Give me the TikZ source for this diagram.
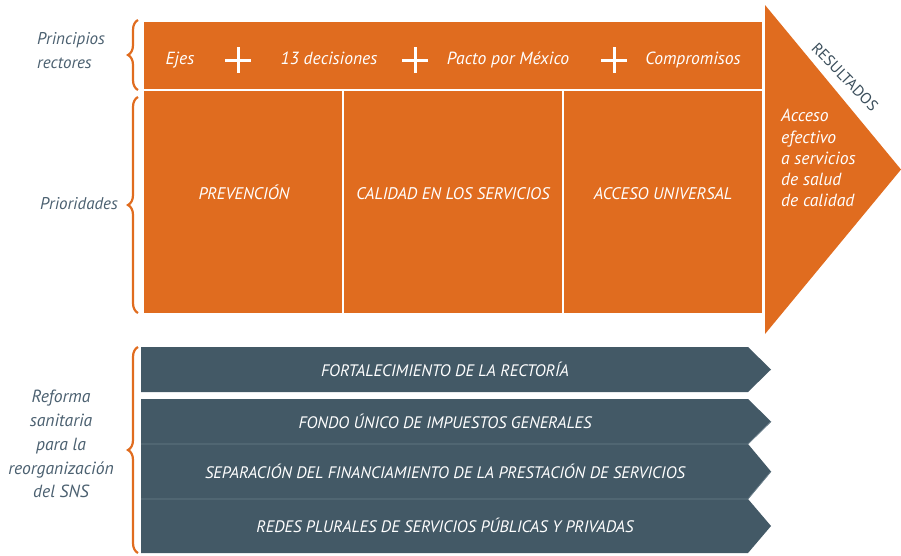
\documentclass[tikz,border=0pt]{standalone}
\usepackage{fontspec}
\setmainfont{PT Sans}
\usetikzlibrary{decorations.pathreplacing}
\definecolor{orng}{HTML}{E06C1F}
\definecolor{slate}{HTML}{435966}
\definecolor{lbl}{HTML}{4B6070}
\definecolor{sepl}{HTML}{6A7E8A}
\definecolor{dslate}{HTML}{3B4E5B}
\begin{document}
\begin{tikzpicture}[x=1pt,y=-1pt,
  obox/.style={fill=orng,draw=white,line width=2pt},
  gbar/.style={fill=slate},
  wtxt/.style={text=white,font=\fontsize{17.6}{20}\selectfont\itshape,inner sep=0,anchor=base},
  ctxt/.style={text=white,font=\fontsize{16.8}{20}\selectfont\itshape,inner sep=0,anchor=base},
  gtxt/.style={text=white,font=\fontsize{16.6}{20}\selectfont\itshape,inner sep=0,anchor=base},
  ltxt/.style={text=lbl,font=\fontsize{17}{23.8}\selectfont\itshape,inner sep=0},
  brc/.style={draw=orng,line width=2.2pt,decorate,decoration={brace,amplitude=10pt}},
  plussign/.style={draw=white,line width=3pt}]
\useasboundingbox (0,0) rectangle (901,555);
% orange block
\fill[orng] (765,5) coordinate (t1) -- (901,169.5) coordinate (t2) -- (765,334) coordinate (t3) -- cycle;
\draw[obox] (143,21) rectangle (763,90);
\draw[obox] (143,90) rectangle (343,314);
\draw[obox] (343,90) rectangle (563,314);
\draw[obox] (563,90) rectangle (763,314);
% plus signs
\foreach \px in {238,415,614}{
  \draw[plussign] (\px-13,60) -- (\px+13,60) (\px,47) -- (\px,73);
}
\node[wtxt] (ejes) at (180,64) {Ejes};
\node[wtxt] (dec) at (329,64) {13 decisiones};
\node[wtxt] (pacto) at (508,64) {Pacto por México};
\node[wtxt] (comp) at (693,64) {Compromisos};
\node[ctxt] (prev) at (244,199) {PREVENCIÓN};
\node[ctxt] (cal) at (453,199) {CALIDAD EN LOS SERVICIOS};
\node[ctxt] (acc) at (663,199) {ACCESO UNIVERSAL};
\node[wtxt,anchor=north west,align=left,font=\fontsize{17.6}{21.3}\selectfont\itshape] (res) at (781,109) {Acceso\\efectivo\\a servicios\\de salud\\de calidad};
\node[text=dslate,font=\fontsize{15.5}{20}\selectfont,rotate=-46,inner sep=0] (resl) at (845,77) {RESULTADOS};
% gray bars
\fill[gbar] (141,347) -- (748,347) -- (771,369.5) -- (748,392) -- (141,392) -- cycle;
\fill[gbar] (141,399) -- (748,399) -- (771,421.5) -- (748,444) -- (141,444) -- cycle;
\fill[gbar] (141,444) -- (748,444) -- (771,471.5) -- (748,499) -- (141,499) -- cycle;
\fill[gbar] (141,499) -- (748,499) -- (771,526) -- (748,553) -- (141,553) -- cycle;
\draw[sepl,line width=0.8pt] (141,444) -- (748,444) -- (771,421.5);
\draw[sepl,line width=0.8pt] (141,499) -- (748,499) -- (771,471.5);
\node[gtxt] (b1) at (445,376) {FORTALECIMIENTO DE LA RECTORÍA};
\node[gtxt] (b2) at (445,428) {FONDO ÚNICO DE IMPUESTOS GENERALES};
\node[gtxt] (b3) at (445,478) {SEPARACIÓN DEL FINANCIAMIENTO DE LA PRESTACIÓN DE SERVICIOS};
\node[gtxt] (b4) at (445,532) {REDES PLURALES DE SERVICIOS PÚBLICAS Y PRIVADAS};
% braces
\draw[brc] (138,90) -- (138,20);
\draw[brc] (138,313) -- (138,97);
\draw[brc] (138,553) -- (138,347);
% left labels
\node[ltxt,anchor=north west,align=left] (lp) at (37,32) {Principios\\rectores};
\node[ltxt,anchor=base west] (lpr) at (40,209) {Prioridades};
\node[ltxt,anchor=north,align=center,font=\fontsize{17.6}{23.8}\selectfont\itshape] (lr) at (61,390) {Reforma\\sanitaria\\para la\\reorganización\\del SNS};
\end{tikzpicture}
\end{document}
